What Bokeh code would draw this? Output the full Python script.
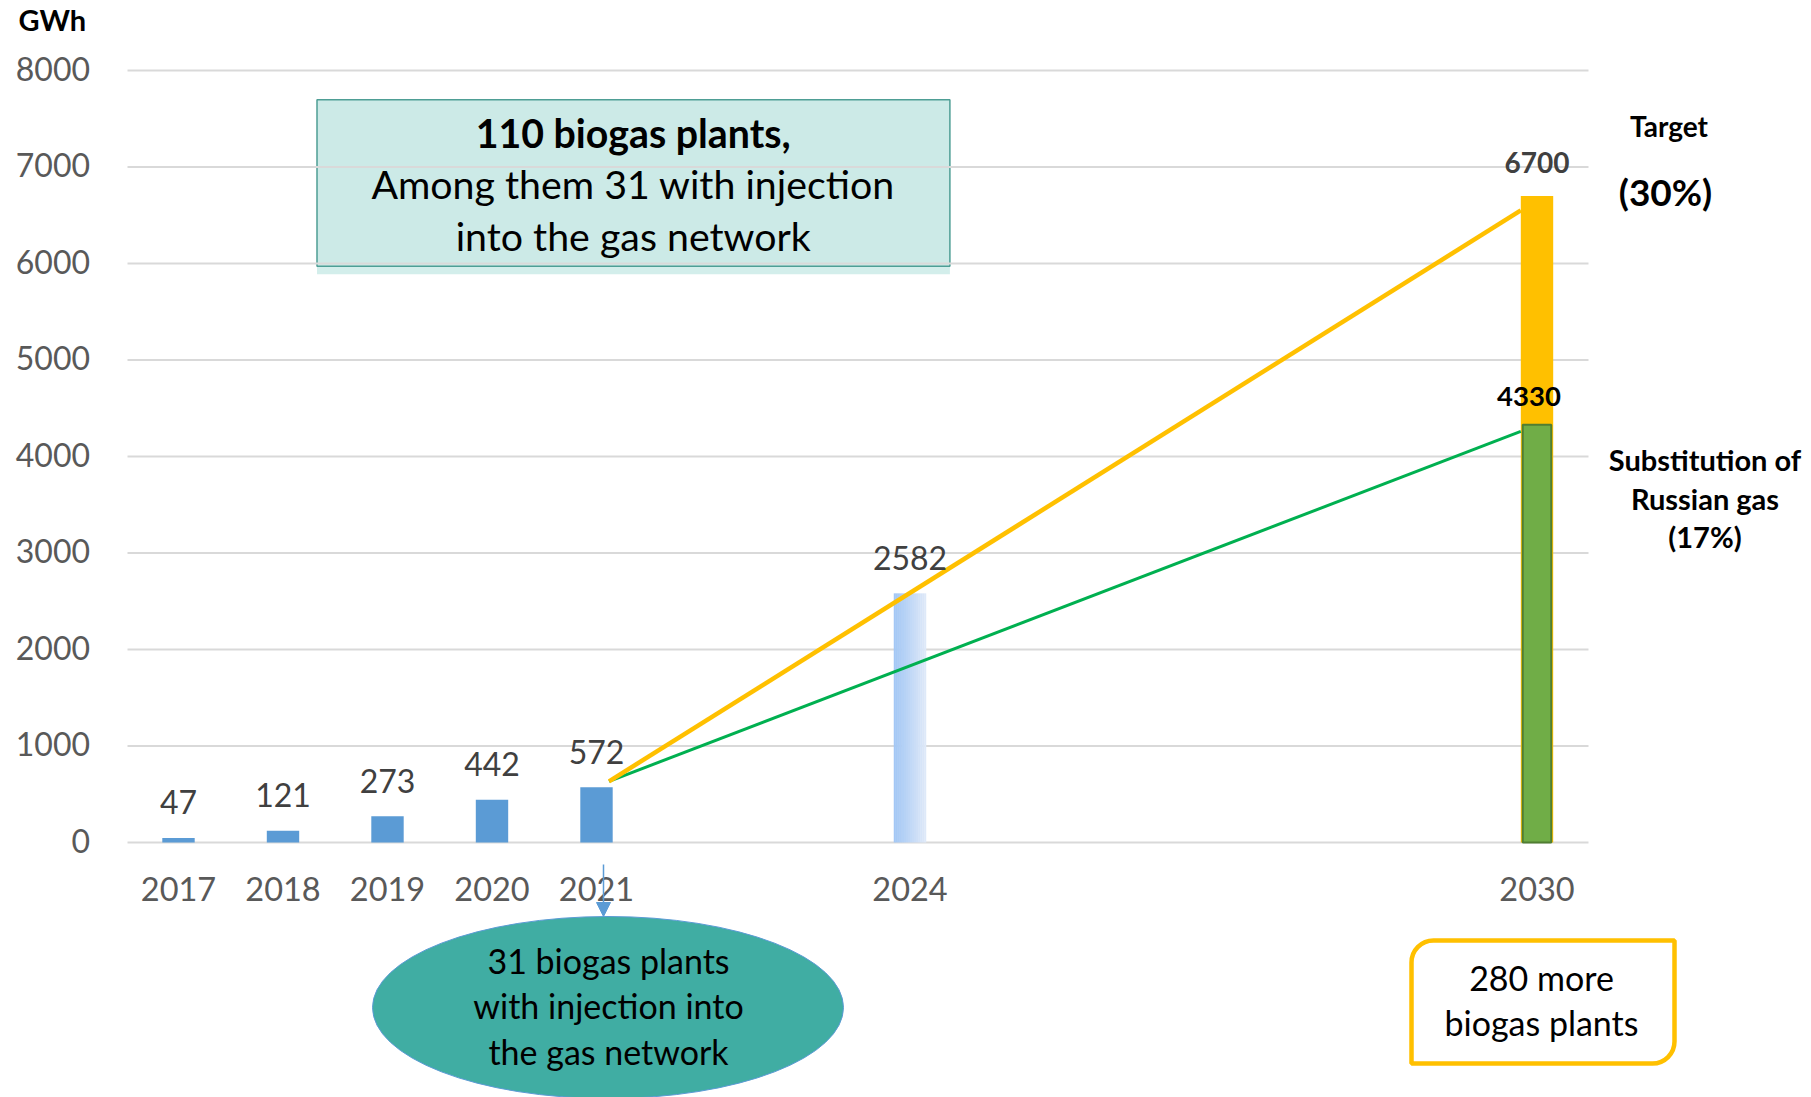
import numpy as np
from bokeh.plotting import figure
from bokeh.models import (Range1d, Label, BoxAnnotation, Arrow, NormalHead, ColumnDataSource)
from bokeh.core.properties import value
from bokeh.embed import file_html
from bokeh.resources import INLINE

# ---------------- data ----------------
years_hist = [2017, 2018, 2019, 2020, 2021]
gwh_hist = [47, 121, 273, 442, 572]
year_2024 = 2024
gwh_2024 = 2582
year_2030 = 2030
gwh_target_2030 = 6700
gwh_subst_2030 = 4330
tick_years = [2017, 2018, 2019, 2020, 2021, 2024, 2030]
y_ticks = [0, 1000, 2000, 3000, 4000, 5000, 6000, 7000, 8000]
trend_start_year = 2021
trend_end_year = 2030
trend_start_value = 634
trend_target_end = 6550
trend_subst_end = 4260

# ---------------- layout ----------------
W, H = 1811, 1097
PX_2017 = 178.0          # canvas x of the 2017 category
PX_PER_YEAR = 104.5
PY_ZERO = 842.0          # canvas y of value 0
PX_PER_UNIT = 772.0 / 8000.0
BAR_W = 0.31
FONT = "Lato"

def dx(px):
    return 2017 + (px - PX_2017) / PX_PER_YEAR

def dy(py):
    return (PY_ZERO - py) / PX_PER_UNIT

p = figure(width=W, height=H, output_backend="svg", toolbar_location=None,
           x_range=Range1d(dx(0), dx(W)), y_range=Range1d(dy(H), dy(0)),
           x_axis_type=None, y_axis_type=None,
           min_border=0, min_border_left=0, min_border_right=0,
           min_border_top=0, min_border_bottom=0)
p.outline_line_color = None
p.background_fill_color = "white"
p.border_fill_color = "white"
p.grid.visible = False

# ---- value grid and axis line (from y tick values) ----
grid_left, grid_right = dx(127), dx(1588)
p.segment(x0=[grid_left] * len(y_ticks), x1=[grid_right] * len(y_ticks),
          y0=y_ticks, y1=y_ticks, line_color="#D9D9D9", line_width=2)

# y tick labels
p.text(x=[dx(89.5)] * len(y_ticks), y=y_ticks, text=[str(v) for v in y_ticks],
       text_align="right", text_baseline="alphabetic", y_offset=-2,
       text_font=value(FONT), text_font_size="32px", text_color="#595959")
# x tick labels
p.text(x=tick_years, y=[0] * len(tick_years), text=[str(v) for v in tick_years],
       text_align="center", text_baseline="alphabetic", y_offset=46.5,
       text_font=value(FONT), text_font_size="32.5px", text_color="#595959")

# teal annotation box (with light strip beneath)
p.add_layout(BoxAnnotation(left=dx(316.5), right=dx(949.4), top=dy(265.7), bottom=dy(273.7),
                           fill_color="#D3EEEB", fill_alpha=1, line_color=None, level="underlay"))
p.add_layout(BoxAnnotation(left=dx(316.5), right=dx(949.4), top=dy(99.3), bottom=dy(265.7),
                           fill_color="#CCEAE7", fill_alpha=1, line_color="#4E9E95",
                           line_alpha=1, line_width=1.5, level="underlay"))

# historical bars
src_hist = ColumnDataSource(dict(x=years_hist, top=gwh_hist, lab=[str(v) for v in gwh_hist]))
p.vbar(x="x", top="top", width=BAR_W, source=src_hist, fill_color="#5B9BD5", line_color=None)

# 2024 bar with horizontal gradient (strips)
n_strips = 16
c_left = np.array([163, 199, 245])
c_right = np.array([222, 233, 249])
strip_w = BAR_W / n_strips
for i in range(n_strips):
    t = i / (n_strips - 1)
    c = (c_left * (1 - t) + c_right * t).astype(int)
    col = "#%02x%02x%02x" % tuple(c)
    p.vbar(x=[year_2024 - BAR_W / 2 + (i + 0.5) * strip_w], top=[gwh_2024],
           width=strip_w * 1.05, fill_color=col, line_color=None)

# 2030 bars
p.vbar(x=[year_2030], top=[gwh_target_2030], width=BAR_W, fill_color="#FFC000", line_color=None)
p.vbar(x=[year_2030], top=[gwh_subst_2030], width=BAR_W * 0.88, fill_color="#70AD47",
       line_color="#507E32", line_width=2)

# trend lines
xs_trend = [trend_start_year + 0.12, trend_end_year - BAR_W / 2]
p.line(x=xs_trend, y=[trend_start_value, trend_subst_end], line_color="#00B050", line_width=3)
p.line(x=xs_trend, y=[trend_start_value, trend_target_end], line_color="#FFC000", line_width=4.5)

# data labels
p.text(x="x", y="top", text="lab", source=src_hist, text_align="center",
       text_baseline="alphabetic", y_offset=-35.5, text_font=value(FONT),
       text_font_size="32px", text_color="#404040")
p.text(x=[year_2024], y=[gwh_2024], text=[str(gwh_2024)], text_align="center",
       text_baseline="alphabetic", y_offset=-35, text_font=value(FONT),
       text_font_size="32px", text_color="#404040")
p.text(x=[year_2030], y=[gwh_target_2030], text=[str(gwh_target_2030)], text_align="center",
       text_baseline="alphabetic", y_offset=-33, text_font=value(FONT),
       text_font_size="28px", text_font_style="bold", text_color="#404040")
p.text(x=[year_2030], y=[gwh_subst_2030], text=[str(gwh_subst_2030)], text_align="center",
       text_baseline="alphabetic", y_offset=-28.5, x_offset=-8, text_font=value(FONT),
       text_font_size="27.5px", text_font_style="bold", text_color="#000000")

def lab(text, px, py, size, bold=False, color="#000000", align="center"):
    p.add_layout(Label(x=dx(px), y=dy(py), text=text, text_align=align,
                       text_baseline="alphabetic", text_font=FONT,
                       text_font_size=f"{size}px",
                       text_font_style="bold" if bold else "normal",
                       text_color=color))

# unit label
lab("GWh", 18, 18.5, 29, bold=True, align="left")

# box texts
lab("110 biogas plants,", 632.7, 132, 39.3, bold=True)
lab("Among them 31 with injection", 632.7, 183, 39.3)
lab("into the gas network", 632.7, 235, 39.3)

# right side texts
lab("Target", 1668.5, 125.5, 28, bold=True)
lab("(30%)", 1665, 191, 37, bold=True)
lab("Substitution of", 1704.5, 459, 29, bold=True)
lab("Russian gas", 1704.5, 497.5, 29, bold=True)
lab("(17%)", 1704.5, 536, 29, bold=True)

# arrow to ellipse
p.add_layout(Arrow(x_start=dx(603), y_start=dy(864), x_end=dx(603), y_end=dy(916),
                   line_color="#5B9BD5", line_width=1.5,
                   end=NormalHead(size=14, fill_color="#5B9BD5", line_color="#5B9BD5")))

# ellipse
p.ellipse(x=[dx(607.5)], y=[dy(1007)], width=471, height=182,
          width_units="screen", height_units="screen",
          fill_color="#40ADA3", line_color="#5B9BD5", line_width=1)
lab("31 biogas plants", 608, 960, 34)
lab("with injection into", 608, 1005, 34)
lab("the gas network", 608, 1050.5, 34)

# rounded box
p.add_layout(BoxAnnotation(left=dx(1411), right=dx(1674), top=dy(940), bottom=dy(1063),
                           fill_color="white", fill_alpha=1, line_color="#FFC000",
                           line_alpha=1, line_width=4.5, border_radius=(22, 0, 22, 0)))
lab("280 more", 1541, 977, 34)
lab("biogas plants", 1541, 1021.5, 34)

open("out.html", "w").write(file_html(p, INLINE))
